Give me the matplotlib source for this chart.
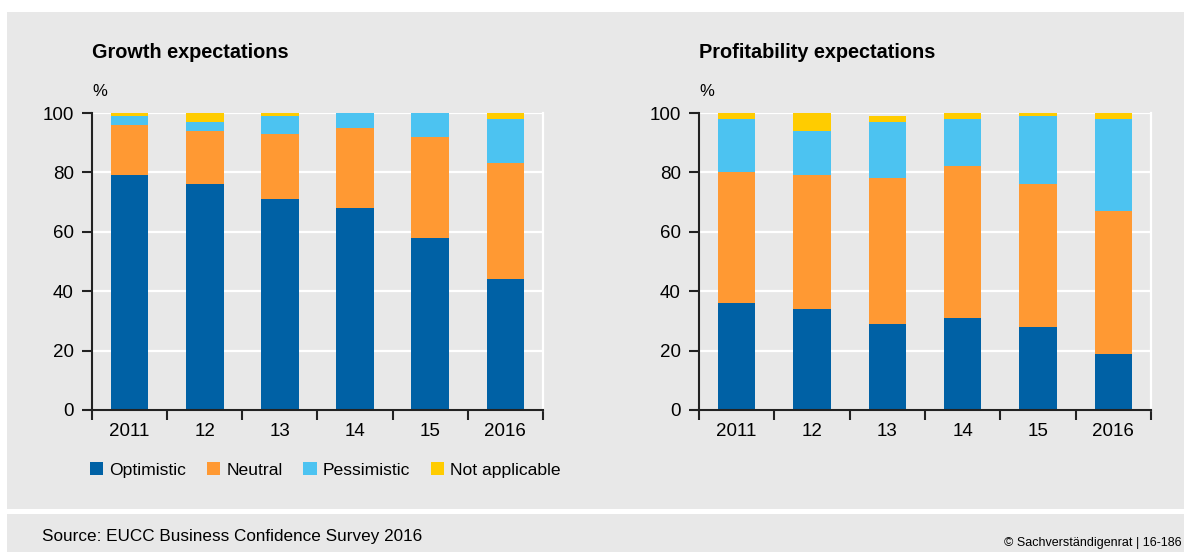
import matplotlib
matplotlib.use('Agg')
import matplotlib.pyplot as plt
from matplotlib.patches import Rectangle, Patch
import numpy as np

plt.rcParams['font.family'] = ['Liberation Sans', 'DejaVu Sans']

# data (percent of respondents)
years = ['2011', '12', '13', '14', '15', '2016']
series = ['Optimistic', 'Neutral', 'Pessimistic', 'Not applicable']

growth_optimistic = [79, 76, 71, 68, 58, 44]
growth_neutral = [17, 18, 22, 27, 34, 39]
growth_pessimistic = [3, 3, 6, 5, 8, 15]
growth_na = [1, 3, 1, 0, 0, 2]

profit_optimistic = [36, 34, 29, 31, 28, 19]
profit_neutral = [44, 45, 49, 51, 48, 48]
profit_pessimistic = [18, 15, 19, 16, 23, 31]
profit_na = [2, 6, 2, 2, 1, 2]

COLORS = ['#0061a5', '#ff9933', '#4cc3f1', '#ffcc00']
BG = '#e8e8e8'

W, H = 1184, 552
fig = plt.figure(figsize=(W / 100, H / 100), dpi=100)
fig.patch.set_facecolor('white')

# grey panels (behind the axes)
fig.patches.append(Rectangle((7 / W, 1 - 509 / H), 1 - 7 / W, (509 - 12) / H,
                             transform=fig.transFigure, facecolor=BG, edgecolor='none', zorder=-10))
fig.patches.append(Rectangle((7 / W, 0), 1 - 7 / W, (552 - 514) / H,
                             transform=fig.transFigure, facecolor=BG, edgecolor='none', zorder=-10))


def draw_panel(left, right, title, data):
    ax = fig.add_axes([left / W, 1 - 410 / H, (right - left) / W, (410 - 113) / H])
    ax.set_zorder(1)
    ax.set_facecolor(BG)
    x = np.arange(len(years))
    bottom = np.zeros(len(years))
    for vals, c in zip(data, COLORS):
        ax.bar(x, vals, width=0.5, bottom=bottom, color=c, zorder=2)
        bottom += np.array(vals)
    ax.set_xlim(-0.5, len(years) - 0.5)
    ax.set_ylim(0, 100)
    ax.set_yticks([0, 20, 40, 60, 80, 100])
    ax.grid(axis='y', color='white', lw=1.6, zorder=1)
    ax.set_axisbelow(True)
    ax.set_xticks(np.arange(-0.5, len(years), 1.0))
    ax.set_xticklabels([])
    ax.set_xticks(x, minor=True)
    ax.set_xticklabels(years, minor=True)
    ax.tick_params(axis='x', which='major', length=7, width=1.5, direction='out', color='#222222')
    ax.tick_params(axis='x', which='minor', length=0, pad=9, labelsize=13.5)
    ax.tick_params(axis='y', length=7, width=1.5, direction='out', color='#222222', pad=6, labelsize=13.5)
    for s in ['left', 'bottom']:
        ax.spines[s].set_color('#222222')
        ax.spines[s].set_linewidth(1.5)
    ax.spines['top'].set_visible(False)
    ax.spines['right'].set_color('white')
    ax.spines['right'].set_linewidth(1.6)
    fig.text(left / W, 1 - 53 / H, title, fontsize=14.3, fontweight='bold', ha='left', va='center')
    fig.text(left / W, 1 - 91 / H, '%', fontsize=12, ha='left', va='center')
    return ax


draw_panel(92, 543, 'Growth expectations',
           [growth_optimistic, growth_neutral, growth_pessimistic, growth_na])
draw_panel(699, 1151, 'Profitability expectations',
           [profit_optimistic, profit_neutral, profit_pessimistic, profit_na])

handles = [Patch(facecolor=c, edgecolor='none', label=s) for c, s in zip(COLORS, series)]
fig.legend(handles=handles, loc='center left', bbox_to_anchor=(74 / W, 1 - 470 / H), ncol=4,
           frameon=False, fontsize=12.6, handlelength=0.75, handleheight=0.75,
           handletextpad=0.35, columnspacing=1.2)

fig.text(42 / W, 1 - 537 / H, 'Source: EUCC Business Confidence Survey 2016', fontsize=12.3,
         ha='left', va='center')
fig.text(1182 / W, 1 - 543 / H, '\u00a9 Sachverst\u00e4ndigenrat | 16-186', fontsize=9,
         ha='right', va='center')

fig.savefig('out.png', dpi=100, facecolor=fig.get_facecolor())
